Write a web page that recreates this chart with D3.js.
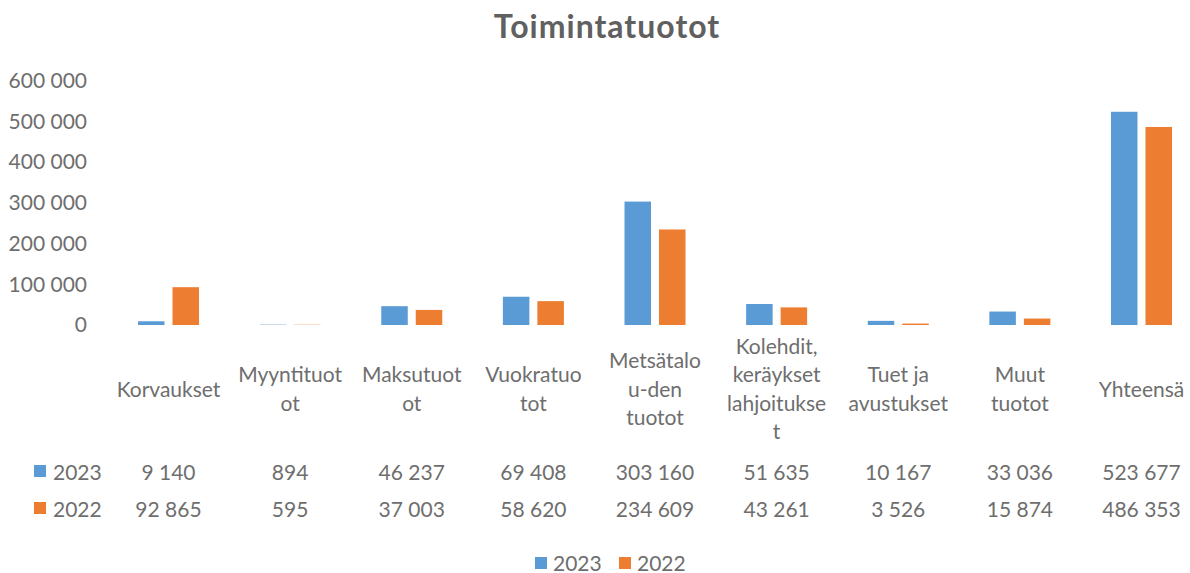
<!DOCTYPE html>
<html>
<head>
<meta charset="utf-8">
<script src="https://cdn.jsdelivr.net/npm/d3@7"></script>
<style>
  html, body { margin: 0; padding: 0; background: #ffffff; }
  svg { display: block; }
  text { font-family: Lato, "Noto Sans", sans-serif; }
</style>
</head>
<body>
<svg id="chart" width="1190" height="573"></svg>
<script>
// ---- data ----
const title = "Toimintatuotot";
const categories = ["Korvaukset", "Myyntituotot", "Maksutuotot", "Vuokratuotot",
  "Metsätalou-den tuotot", "Kolehdit, keräykset lahjoitukset", "Tuet ja avustukset",
  "Muut tuotot", "Yhteensä"];
const categoryLabelLines = [
  ["Korvaukset"], ["Myyntituot", "ot"], ["Maksutuot", "ot"], ["Vuokratuo", "tot"],
  ["Metsätalo", "u-den", "tuotot"], ["Kolehdit,", "keräykset", "lahjoitukse", "t"],
  ["Tuet ja", "avustukset"], ["Muut", "tuotot"], ["Yhteensä"]
];
const seriesNames = ["2023", "2022"];
const values2023 = [9140, 894, 46237, 69408, 303160, 51635, 10167, 33036, 523677];
const values2022 = [92865, 595, 37003, 58620, 234609, 43261, 3526, 15874, 486353];
const yTicks = [0, 100000, 200000, 300000, 400000, 500000, 600000];
const colors = ["#5B9BD5", "#ED7D31"];

// ---- layout ----
const svg = d3.select("#chart");
const textColor = "#6e6e6e";
const fontSize = 21;
const locale = d3.formatLocale({ decimal: ",", thousands: "\u2009", grouping: [3], currency: ["", "€"] });
const fmt = v => locale.format(",")(v).replace(/\u2009/g, " ");

const x = d3.scaleBand().domain(categories).range([107.7, 1202.3]).paddingInner(0).paddingOuter(0);
const y = d3.scaleLinear().domain([0, 600000]).range([325, 80.7]);
const groupHalf = 30.5;
const xs = d3.scaleBand().domain(seriesNames).range([-groupHalf, groupHalf]).paddingInner(0.232);

const seriesValues = [values2023, values2022];

// title
svg.append("text")
  .attr("x", 607).attr("y", 25)
  .attr("text-anchor", "middle").attr("dominant-baseline", "central")
  .attr("font-size", 32).attr("font-weight", "bold").attr("fill", "#606060")
  .attr("letter-spacing", 1)
  .text(title);

// y axis
const yAxis = d3.axisLeft(y).tickValues(yTicks).tickFormat(fmt).tickSize(0).tickPadding(0);
const gy = svg.append("g").attr("transform", "translate(87,0)").call(yAxis);
gy.select(".domain").remove();
gy.selectAll("text").attr("font-size", fontSize).attr("fill", textColor)
  .attr("font-family", "Lato, 'Noto Sans', sans-serif");

// bars
seriesNames.forEach((s, si) => {
  svg.append("g").selectAll("rect")
    .data(categories.map((c, i) => ({ c, v: seriesValues[si][i] })))
    .join("rect")
    .attr("x", d => x(d.c) + x.bandwidth() / 2 + xs(s))
    .attr("width", xs.bandwidth())
    .attr("y", d => y(d.v))
    .attr("height", d => Math.max(0, y(0) - y(d.v)))
    .attr("fill", colors[si]);
});

// category labels
const lineH = 28.5;
const labelCenter = 388;
categories.forEach((c, i) => {
  const lines = categoryLabelLines[i];
  const t = svg.append("text")
    .attr("text-anchor", "middle").attr("font-size", fontSize).attr("fill", textColor);
  lines.forEach((ln, k) => {
    t.append("tspan")
      .attr("x", x(c) + x.bandwidth() / 2)
      .attr("y", labelCenter + (k - (lines.length - 1) / 2) * lineH)
      .attr("dominant-baseline", "central")
      .text(ln);
  });
});

// data table rows
const rowY = [471, 508];
seriesNames.forEach((s, si) => {
  svg.append("rect").attr("x", 34).attr("y", rowY[si] - 6).attr("width", 12).attr("height", 12)
    .attr("fill", colors[si]);
  svg.append("text").attr("x", 53).attr("y", rowY[si]).attr("dominant-baseline", "central")
    .attr("font-size", fontSize).attr("fill", textColor).text(s);
  svg.append("g").selectAll("text")
    .data(categories.map((c, i) => ({ c, v: seriesValues[si][i] })))
    .join("text")
    .attr("x", d => x(d.c) + x.bandwidth() / 2)
    .attr("y", rowY[si])
    .attr("text-anchor", "middle").attr("dominant-baseline", "central")
    .attr("font-size", fontSize).attr("fill", textColor)
    .text(d => fmt(d.v));
});

// legend
const legendX = [535, 619];
seriesNames.forEach((s, si) => {
  svg.append("rect").attr("x", legendX[si]).attr("y", 557).attr("width", 12).attr("height", 12)
    .attr("fill", colors[si]);
  svg.append("text").attr("x", legendX[si] + 18).attr("y", 562).attr("dominant-baseline", "central")
    .attr("font-size", fontSize).attr("fill", textColor).text(s);
});
</script>
</body>
</html>
